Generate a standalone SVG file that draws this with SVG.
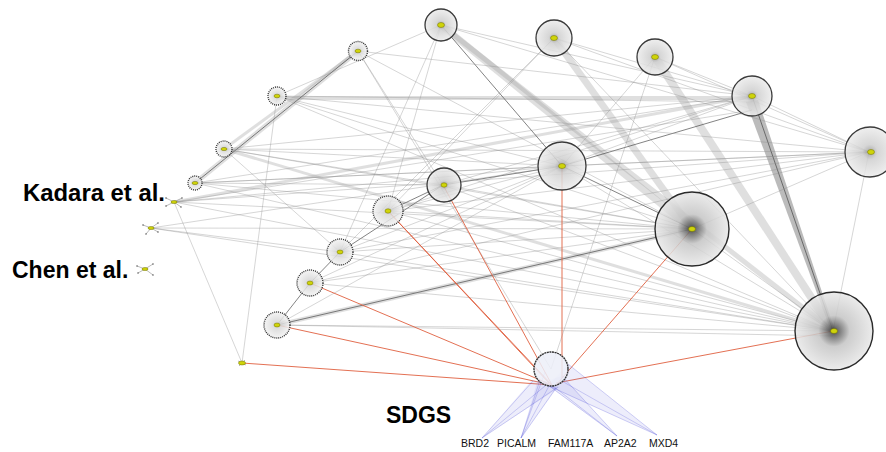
<svg xmlns="http://www.w3.org/2000/svg" width="886" height="452" viewBox="0 0 886 452">
<defs>
<radialGradient id="gHub"><stop offset="0" stop-color="#111"/><stop offset="0.1" stop-color="#555"/><stop offset="0.4" stop-color="#c4c4c4"/><stop offset="1" stop-color="#e8e8e8"/></radialGradient>
<radialGradient id="gMid"><stop offset="0" stop-color="#999"/><stop offset="0.3" stop-color="#cfcfcf"/><stop offset="1" stop-color="#ececec"/></radialGradient>
<radialGradient id="gSm"><stop offset="0" stop-color="#ccc"/><stop offset="1" stop-color="#f3f3f3"/></radialGradient>
<style>
.g1{stroke:#8c8c8c;stroke-width:.6;stroke-opacity:.6;fill:none}
.g2{stroke:#3a3a3a;stroke-width:.9;stroke-opacity:.7;fill:none}
.bd{stroke:#9a9a9a;stroke-opacity:.32;fill:none}
.r{stroke:#e0603f;stroke-width:.9;fill:none}
.b{stroke:#4a4ad8;stroke-width:.5;stroke-opacity:.5;fill:none}
.fan{fill:#7c7ce0;fill-opacity:.14;stroke:none}
.hub{fill:url(#gHub);stroke:#2a2a2a;stroke-width:1.4}
.mid{fill:url(#gMid);fill-opacity:.85;stroke:#3a3a3a;stroke-width:1.3}
.sm{fill:url(#gSm);fill-opacity:.85;stroke:#333;stroke-width:1.4;stroke-dasharray:1 1}
.ctr{fill:#cfd40a;stroke:#6c6c00;stroke-width:.5}
.sp{stroke:#777;stroke-width:.5}
.dot{fill:#444}
.lbl{font-family:"Liberation Sans",Arial,sans-serif;font-weight:bold;fill:#000}
.gene{font-family:"Liberation Sans",Arial,sans-serif;font-size:10.5px;fill:#111}
</style>
</defs>
<rect width="886" height="452" fill="#fff"/>
<g id="connectors">
<line class="bd" stroke-width="7" x1="441" y1="25" x2="692" y2="229"/>
<line class="bd" stroke-width="5" x1="441" y1="25" x2="833" y2="331"/>
<line class="bd" stroke-width="7" x1="554" y1="38" x2="692" y2="229"/>
<line class="bd" stroke-width="8" x1="655" y1="57" x2="833" y2="331"/>
<polygon points="746,102 758,100 835,331 831,331" fill="#555" fill-opacity=".4"/>
<line class="bd" stroke-width="5" x1="195" y1="183" x2="358" y2="51"/>
<line class="bd" stroke-width="3" x1="224" y1="149" x2="358" y2="51"/>
<line class="bd" stroke-width="4" x1="277" y1="98" x2="752" y2="98"/>
<line class="bd" stroke-width="4" x1="277" y1="325" x2="692" y2="229"/>
<line class="bd" stroke-width="3" x1="174" y1="202" x2="752" y2="96"/>
<line class="bd" stroke-width="3" x1="224" y1="149" x2="833" y2="331"/>
<line class="g2" x1="277" y1="325" x2="310" y2="283"/>
<line class="g2" x1="310" y1="283" x2="340" y2="252"/>
<line class="g2" x1="340" y1="252" x2="443" y2="185"/>
<line class="g2" x1="388" y1="211" x2="443" y2="185"/>
<line class="g2" x1="277" y1="325" x2="692" y2="229"/>
<line class="g2" x1="441" y1="25" x2="562" y2="166"/>
<line class="g2" x1="562" y1="166" x2="752" y2="110"/>
<line class="g2" x1="443" y1="185" x2="562" y2="166"/>
<line class="g2" x1="195" y1="183" x2="358" y2="51"/>
<line class="g2" x1="752" y1="96" x2="833" y2="331"/>
<line class="g2" x1="562" y1="166" x2="692" y2="229"/>
<line class="g1" x1="441" y1="25" x2="752" y2="96"/>
<line class="g1" x1="441" y1="25" x2="869" y2="152"/>
<line class="g1" x1="441" y1="25" x2="340" y2="252"/>
<line class="g1" x1="441" y1="25" x2="277" y2="96"/>
<line class="g1" x1="441" y1="25" x2="388" y2="211"/>
<line class="g1" x1="554" y1="38" x2="388" y2="211"/>
<line class="g1" x1="554" y1="38" x2="340" y2="252"/>
<line class="g1" x1="554" y1="38" x2="752" y2="96"/>
<line class="g1" x1="554" y1="38" x2="869" y2="152"/>
<line class="g1" x1="554" y1="38" x2="833" y2="331"/>
<line class="g1" x1="655" y1="57" x2="562" y2="166"/>
<line class="g1" x1="655" y1="57" x2="551" y2="369"/>
<line class="g1" x1="655" y1="57" x2="752" y2="96"/>
<line class="g1" x1="358" y1="51" x2="443" y2="185"/>
<line class="g1" x1="358" y1="51" x2="692" y2="229"/>
<line class="g1" x1="358" y1="51" x2="752" y2="96"/>
<line class="g1" x1="358" y1="51" x2="551" y2="369"/>
<line class="g1" x1="277" y1="96" x2="242" y2="363"/>
<line class="g1" x1="277" y1="96" x2="869" y2="152"/>
<line class="g1" x1="277" y1="96" x2="562" y2="166"/>
<line class="g1" x1="277" y1="96" x2="692" y2="229"/>
<line class="g1" x1="277" y1="96" x2="833" y2="331"/>
<line class="g1" x1="277" y1="96" x2="752" y2="102"/>
<line class="g1" x1="224" y1="149" x2="340" y2="252"/>
<line class="g1" x1="224" y1="149" x2="752" y2="96"/>
<line class="g1" x1="224" y1="149" x2="869" y2="152"/>
<line class="g1" x1="224" y1="149" x2="562" y2="166"/>
<line class="g1" x1="224" y1="149" x2="692" y2="229"/>
<line class="g1" x1="224" y1="149" x2="443" y2="185"/>
<line class="g1" x1="195" y1="183" x2="752" y2="96"/>
<line class="g1" x1="195" y1="183" x2="869" y2="152"/>
<line class="g1" x1="195" y1="183" x2="562" y2="166"/>
<line class="g1" x1="195" y1="183" x2="692" y2="229"/>
<line class="g1" x1="195" y1="183" x2="833" y2="331"/>
<line class="g1" x1="195" y1="183" x2="443" y2="185"/>
<line class="g1" x1="174" y1="202" x2="869" y2="152"/>
<line class="g1" x1="174" y1="202" x2="562" y2="166"/>
<line class="g1" x1="174" y1="202" x2="692" y2="229"/>
<line class="g1" x1="174" y1="202" x2="833" y2="331"/>
<line class="g1" x1="174" y1="202" x2="242" y2="363"/>
<line class="g1" x1="174" y1="202" x2="752" y2="110"/>
<line class="g1" x1="151" y1="228" x2="692" y2="229"/>
<line class="g1" x1="151" y1="228" x2="833" y2="331"/>
<line class="g1" x1="151" y1="228" x2="562" y2="166"/>
<line class="g1" x1="151" y1="228" x2="340" y2="252"/>
<line class="g1" x1="388" y1="211" x2="869" y2="152"/>
<line class="g1" x1="388" y1="211" x2="752" y2="96"/>
<line class="g1" x1="388" y1="211" x2="833" y2="331"/>
<line class="g1" x1="388" y1="211" x2="692" y2="229"/>
<line class="g1" x1="388" y1="211" x2="562" y2="166"/>
<line class="g1" x1="443" y1="185" x2="833" y2="331"/>
<line class="g1" x1="443" y1="185" x2="752" y2="96"/>
<line class="g1" x1="443" y1="185" x2="692" y2="229"/>
<line class="g1" x1="340" y1="252" x2="833" y2="331"/>
<line class="g1" x1="340" y1="252" x2="692" y2="229"/>
<line class="g1" x1="340" y1="252" x2="869" y2="152"/>
<line class="g1" x1="340" y1="252" x2="562" y2="166"/>
<line class="g1" x1="310" y1="283" x2="833" y2="331"/>
<line class="g1" x1="310" y1="283" x2="692" y2="229"/>
<line class="g1" x1="310" y1="283" x2="869" y2="152"/>
<line class="g1" x1="310" y1="283" x2="562" y2="166"/>
<line class="g1" x1="277" y1="325" x2="833" y2="331"/>
<line class="g1" x1="277" y1="325" x2="833" y2="336"/>
<line class="g1" x1="277" y1="325" x2="562" y2="166"/>
<line class="g1" x1="562" y1="166" x2="833" y2="331"/>
<line class="g1" x1="562" y1="166" x2="869" y2="152"/>
<line class="g1" x1="562" y1="166" x2="752" y2="96"/>
<line class="g1" x1="692" y1="229" x2="869" y2="152"/>
<line class="g1" x1="692" y1="229" x2="833" y2="331"/>
<line class="g1" x1="752" y1="96" x2="869" y2="152"/>
<line class="g1" x1="869" y1="152" x2="833" y2="331"/>
<line class="g1" x1="655" y1="57" x2="869" y2="152"/>
<line class="r" x1="242" y1="363" x2="552" y2="385"/>
<line class="r" x1="277" y1="325" x2="552" y2="385"/>
<line class="r" x1="310" y1="283" x2="552" y2="385"/>
<line class="r" x1="388" y1="211" x2="552" y2="385"/>
<line class="r" x1="388" y1="211" x2="549" y2="383"/>
<line class="r" x1="443" y1="185" x2="552" y2="385"/>
<line class="r" x1="562" y1="166" x2="562" y2="378"/>
<line class="r" x1="692" y1="229" x2="556" y2="385"/>
<line class="r" x1="833" y1="331" x2="556" y2="383"/>
<polygon class="fan" points="482,438 532,380 560,387"/>
<polygon class="fan" points="521,438 538,379 557,388"/>
<polygon class="fan" points="617,436 543,382 562,376"/>
<polygon class="fan" points="657,435 548,386 568,364"/>
<line class="b" x1="482" y1="438" x2="533" y2="381"/>
<line class="b" x1="482" y1="438" x2="545" y2="386"/>
<line class="b" x1="482" y1="438" x2="558" y2="387"/>
<line class="b" x1="521" y1="438" x2="540" y2="380"/>
<line class="b" x1="521" y1="438" x2="549" y2="386"/>
<line class="b" x1="521" y1="438" x2="556" y2="388"/>
<line class="b" x1="521" y1="438" x2="545" y2="372"/>
<line class="b" x1="617" y1="436" x2="544" y2="382"/>
<line class="b" x1="617" y1="436" x2="553" y2="386"/>
<line class="b" x1="617" y1="436" x2="562" y2="376"/>
<line class="b" x1="657" y1="435" x2="549" y2="386"/>
<line class="b" x1="657" y1="435" x2="568" y2="364"/>
<line class="b" x1="657" y1="435" x2="560" y2="380"/>
</g>
<g id="n-A"><circle class="mid" cx="441" cy="25" r="16"/><ellipse class="ctr" cx="441" cy="25" rx="3.5" ry="2.5"/></g>
<g id="n-B"><circle class="mid" cx="554" cy="38" r="18"/><ellipse class="ctr" cx="554" cy="38" rx="3.5" ry="2.5"/></g>
<g id="n-C"><circle class="mid" cx="655" cy="57" r="18"/><ellipse class="ctr" cx="655" cy="57" rx="3.5" ry="2.5"/></g>
<g id="n-D"><circle class="mid" cx="752" cy="96" r="20"/><ellipse class="ctr" cx="752" cy="96" rx="3.5" ry="2.5"/></g>
<g id="n-E"><circle class="mid" cx="870" cy="152" r="25"/><ellipse class="ctr" cx="871" cy="152" rx="3.5" ry="2.5"/></g>
<g id="n-F"><circle class="mid" cx="562" cy="166" r="24"/><ellipse class="ctr" cx="562" cy="166" rx="3.5" ry="2.5"/></g>
<g id="n-G"><circle class="hub" cx="692" cy="229" r="37" fill-opacity=".85"/><ellipse class="ctr" cx="692" cy="229" rx="3.5" ry="2.5"/></g>
<g id="n-H"><circle class="hub" cx="834" cy="331" r="39" fill-opacity=".85"/><ellipse class="ctr" cx="834" cy="331" rx="3.5" ry="2.5"/></g>
<g id="n-I"><circle class="mid" cx="444" cy="185" r="17"/><ellipse class="ctr" cx="444" cy="185" rx="3" ry="2.2"/></g>
<g id="n-J"><circle class="sm" cx="388" cy="211" r="15"/><ellipse class="ctr" cx="388" cy="211" rx="3" ry="2.2"/></g>
<g id="n-K"><circle class="sm" cx="340" cy="252" r="13"/><ellipse class="ctr" cx="340" cy="252" rx="3" ry="2"/></g>
<g id="n-L"><circle class="sm" cx="310" cy="283" r="13"/><ellipse class="ctr" cx="310" cy="283" rx="3" ry="2"/></g>
<g id="n-M"><circle class="sm" cx="277" cy="325" r="13"/><ellipse class="ctr" cx="277" cy="325" rx="3" ry="2"/></g>
<g id="n-14"><circle class="sm" cx="358" cy="51" r="9.5"/><ellipse class="ctr" cx="358" cy="51" rx="3" ry="1.8"/></g>
<g id="n-15"><circle class="sm" cx="277" cy="96" r="9"/><ellipse class="ctr" cx="277" cy="96" rx="3" ry="1.8"/></g>
<g id="n-16"><circle class="sm" cx="224" cy="149" r="8"/><ellipse class="ctr" cx="224" cy="149" rx="3" ry="1.6"/></g>
<g id="n-17"><circle class="sm" cx="195" cy="183" r="7"/><ellipse class="ctr" cx="195" cy="183" rx="3" ry="1.6"/></g>
<g id="n-18">
<path class="sp" d="M174,202 L166,198 M174,202 L166,206 M174,202 L182,198 M174,202 L181,207"/>
<circle class="dot" cx="166" cy="198" r=".7"/><circle class="dot" cx="166" cy="206" r=".7"/><circle class="dot" cx="182" cy="198" r=".7"/><circle class="dot" cx="181" cy="207" r=".7"/>
<ellipse class="ctr" cx="174" cy="202" rx="3" ry="1.5"/></g>
<g id="n-19">
<path class="sp" d="M151,228 L143,225 M151,228 L146,234 M151,228 L158,223 M151,228 L158,232"/>
<circle class="dot" cx="143" cy="225" r=".7"/><circle class="dot" cx="146" cy="234" r=".7"/><circle class="dot" cx="158" cy="223" r=".7"/><circle class="dot" cx="158" cy="232" r=".7"/>
<ellipse class="ctr" cx="151" cy="228" rx="3" ry="1.5"/></g>
<g id="n-chen">
<path class="sp" d="M145,269 L137,266 M145,269 L138,273 M145,269 L153,264 M145,269 L153,275"/>
<circle class="dot" cx="137" cy="266" r=".7"/><circle class="dot" cx="138" cy="273" r=".7"/><circle class="dot" cx="153" cy="264" r=".7"/><circle class="dot" cx="153" cy="275" r=".7"/>
<ellipse class="ctr" cx="145" cy="269" rx="3" ry="1.5"/></g>
<g id="n-21"><path class="sp" d="M238,361 L246,365 M239,366 L245,360"/><ellipse class="ctr" cx="242" cy="363" rx="3.5" ry="2"/></g>
<g id="n-SDGS"><circle cx="551" cy="369" r="17" fill="#eceff8" fill-opacity=".85" stroke="#333" stroke-width="1.4" stroke-dasharray="2 .6"/></g>
<g id="labels">
<text class="lbl" x="23" y="201" font-size="23" textLength="142" lengthAdjust="spacingAndGlyphs">Kadara et al.</text>
<text class="lbl" x="12" y="278" font-size="23">Chen et al.</text>
<text class="lbl" x="386" y="423" font-size="23">SDGS</text>
<text class="gene" x="461" y="447">BRD2</text>
<text class="gene" x="497" y="447">PICALM</text>
<text class="gene" x="548" y="447">FAM117A</text>
<text class="gene" x="604" y="447">AP2A2</text>
<text class="gene" x="649" y="447">MXD4</text>
</g>
</svg>
